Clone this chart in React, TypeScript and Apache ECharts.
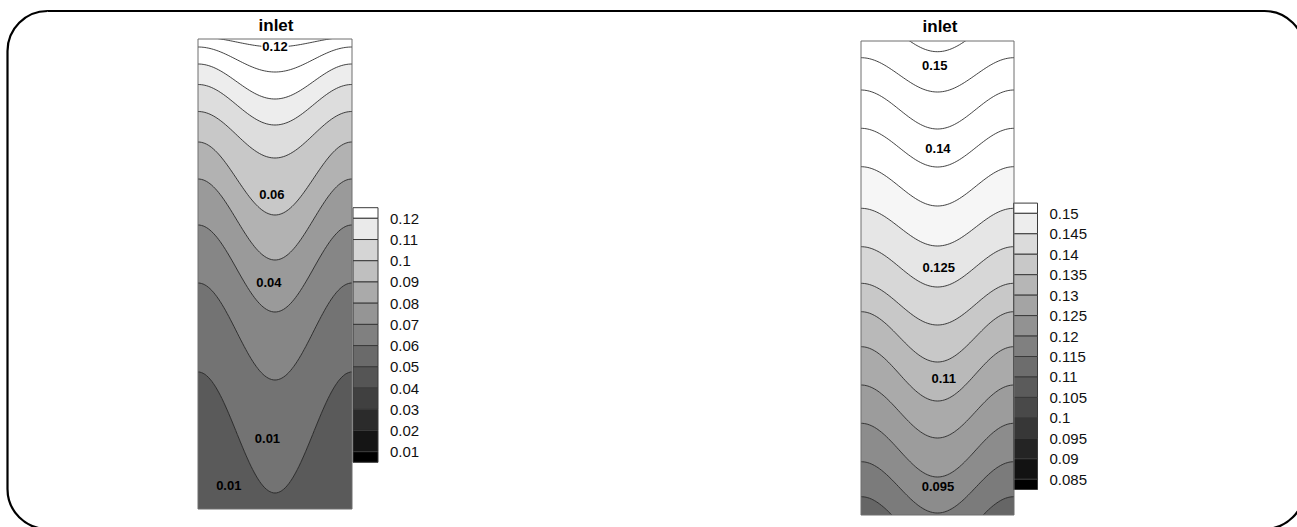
import React, { useEffect, useRef } from 'react';
import * as echarts from 'echarts';

// ---------- data ----------
// Contour lines: depth (px from panel top) at the side walls and at the centre line
const leftLineEdge = [-2, 8, 25, 45.5, 72.5, 103, 140, 186, 244, 333];
const leftLineCenter = [8, 33, 60, 86, 119, 176, 221, 273, 341, 454];
const rightLineEdge = [-26, 16.7, 49, 87.3, 125.7, 167.3, 205.7, 242.3, 270.7, 305.7, 344, 382.3, 420.7, 455.7];
const rightLineCenter = [10.7, 51, 88, 126, 165, 205, 246, 284, 321, 360, 397, 436, 472, 508];

// band fills (top band first)
const leftBandGray = ['#ffffff', '#ffffff', '#ffffff', '#ededed', '#dddddd', '#c8c8c8', '#b2b2b2', '#9a9a9a', '#868686', '#737373', '#5a5a5a'];
const rightBandGray = ['#ffffff', '#ffffff', '#ffffff', '#ffffff', '#ffffff', '#f6f6f6', '#e6e6e6', '#d7d7d7', '#c8c8c8', '#b9b9b9', '#aaaaaa', '#9c9c9c', '#8c8c8c', '#7b7b7b', '#666666'];

// contour labels: text, across-position (0..1), depth
const leftLabelText = ['0.12', '0.06', '0.04', '0.01', '0.01'];
const leftLabelU = [0.5, 0.48, 0.46, 0.451, 0.2];
const leftLabelD = [7.7, 155.3, 243.7, 399.3, 446];
const rightLabelText = ['0.15', '0.14', '0.125', '0.11', '0.095'];
const rightLabelU = [0.482, 0.503, 0.508, 0.541, 0.503];
const rightLabelD = [24, 107, 226.3, 337.3, 445.7];

// colour bars
const leftTicks = ['0.12', '0.11', '0.1', '0.09', '0.08', '0.07', '0.06', '0.05', '0.04', '0.03', '0.02', '0.01'];
const leftBarEdges = [0.125, 0.12, 0.11, 0.1, 0.09, 0.08, 0.07, 0.06, 0.05, 0.04, 0.03, 0.02, 0.01, 0.005];
const rightTicks = ['0.15', '0.145', '0.14', '0.135', '0.13', '0.125', '0.12', '0.115', '0.11', '0.105', '0.1', '0.095', '0.09', '0.085'];
const rightBarEdges = [0.1525, 0.15, 0.145, 0.14, 0.135, 0.13, 0.125, 0.12, 0.115, 0.11, 0.105, 0.1, 0.095, 0.09, 0.085, 0.0825];

const SAMPLES = 90;
const FONT = '"Liberation Sans", Arial, sans-serif';

function depthAt(edge: number, center: number, u: number) {
  return edge + (center - edge) * (1 - Math.cos(2 * Math.PI * u)) / 2;
}

function bandSeries(edges: number[], centers: number[], colors: string[], H: number, idx: number) {
  return {
    type: 'custom',
    xAxisIndex: idx,
    yAxisIndex: idx,
    clip: true,
    silent: true,
    data: colors.map(() => [0.5, 1]),
    renderItem: (params: any, api: any) => {
      const k = params.dataIndex;
      const pts: number[][] = [];
      for (let i = 0; i <= SAMPLES; i++) {
        const u = i / SAMPLES;
        const d = k === 0 ? -60 : depthAt(edges[k - 1], centers[k - 1], u);
        pts.push(api.coord([u, d]));
      }
      for (let i = SAMPLES; i >= 0; i--) {
        const u = i / SAMPLES;
        const d = k === edges.length ? H + 80 : depthAt(edges[k], centers[k], u);
        pts.push(api.coord([u, d]));
      }
      return { type: 'polygon', shape: { points: pts }, style: { fill: colors[k], stroke: colors[k], lineWidth: 0.5 } };
    },
  };
}

function lineSeries(edges: number[], centers: number[], idx: number) {
  return {
    type: 'custom',
    xAxisIndex: idx,
    yAxisIndex: idx,
    clip: true,
    silent: true,
    z: 3,
    data: edges.map(() => [0.5, 1]),
    renderItem: (params: any, api: any) => {
      const k = params.dataIndex;
      const pts: number[][] = [];
      for (let i = 0; i <= SAMPLES; i++) {
        const u = i / SAMPLES;
        pts.push(api.coord([u, depthAt(edges[k], centers[k], u)]));
      }
      return { type: 'polyline', shape: { points: pts }, style: { stroke: '#222222', lineWidth: 0.85, fill: null } };
    },
  };
}

function labelSeries(texts: string[], us: number[], ds: number[], bgs: string[], idx: number) {
  return {
    type: 'custom',
    xAxisIndex: idx,
    yAxisIndex: idx,
    silent: true,
    z: 5,
    data: texts.map((t, i) => [us[i], ds[i]]),
    renderItem: (params: any, api: any) => {
      const i = params.dataIndex;
      const p = api.coord([api.value(0), api.value(1)]);
      return {
        type: 'text',
        x: p[0],
        y: p[1],
        style: {
          text: texts[i],
          font: 'bold 13px ' + FONT,
          fill: '#000',
          align: 'center',
          verticalAlign: 'middle',
          backgroundColor: bgs[i] || 'transparent',
          padding: [0, 1],
        },
      };
    },
  };
}

function barSeries(edgesV: number[], idx: number) {
  const n = edgesV.length - 1;
  return {
    type: 'custom',
    xAxisIndex: idx,
    yAxisIndex: idx,
    silent: true,
    data: edgesV.slice(0, n).map((v, i) => [v, edgesV[i + 1]]),
    renderItem: (params: any, api: any) => {
      const i = params.dataIndex;
      const p0 = api.coord([0, api.value(0)]);
      const p1 = api.coord([1, api.value(1)]);
      const g = Math.round((255 * (n - 1 - i)) / (n - 1));
      return {
        type: 'rect',
        shape: { x: p0[0], y: p0[1], width: p1[0] - p0[0], height: p1[1] - p0[1] },
        style: { fill: `rgb(${g},${g},${g})`, stroke: '#3a3a3a', lineWidth: 1 },
      };
    },
  };
}

function tickFormatter(ticks: string[]) {
  return (v: number) => {
    const t = ticks.find((s) => Math.abs(Number(s) - v) < 1e-7);
    return t ?? '';
  };
}

function barAxis(ticks: string[], min: number, max: number, idx: number) {
  return {
    type: 'value',
    gridIndex: idx,
    min,
    max,
    position: 'right',
    axisLine: { show: false },
    axisTick: { show: false },
    splitLine: { show: false },
    axisLabel: {
      customValues: ticks.map(Number),
      formatter: tickFormatter(ticks),
      margin: 12,
      fontSize: 15,
      fontFamily: FONT,
      color: '#111',
      padding: [7, 0, 0, 0],
    },
  };
}

function buildOption() {
  const LH = 470;
  const RH = 474;
  return {
    animation: false,
    backgroundColor: '#ffffff',
    grid: [
      { left: 198, top: 39, width: 154, height: LH },
      { left: 861, top: 41, width: 153, height: RH },
      { left: 353, top: 207.7, width: 25, height: 254.6 },
      { left: 1013.5, top: 203.1, width: 24, height: 286.4 },
    ],
    xAxis: [0, 1, 2, 3].map((i) => ({ type: 'value', gridIndex: i, min: 0, max: 1, show: false })),
    yAxis: [
      { type: 'value', gridIndex: 0, inverse: true, min: 0, max: LH, show: false },
      { type: 'value', gridIndex: 1, inverse: true, min: 0, max: RH, show: false },
      barAxis(leftTicks, 0.005, 0.125, 2),
      barAxis(rightTicks, 0.0825, 0.1525, 3),
    ],
    series: [
      bandSeries(leftLineEdge, leftLineCenter, leftBandGray, LH, 0),
      lineSeries(leftLineEdge, leftLineCenter, 0),
      labelSeries(leftLabelText, leftLabelU, leftLabelD, ['#ffffff'], 0),
      bandSeries(rightLineEdge, rightLineCenter, rightBandGray, RH, 1),
      lineSeries(rightLineEdge, rightLineCenter, 1),
      labelSeries(rightLabelText, rightLabelU, rightLabelD, [], 1),
      barSeries(leftBarEdges, 2),
      barSeries(rightBarEdges, 3),
    ],
    graphic: [
      {
        type: 'rect',
        z: 100,
        silent: true,
        shape: { x: 7.5, y: 11, width: 1297, height: 518, r: 40 },
        style: { fill: null, stroke: '#000', lineWidth: 2.2 },
      },
      {
        type: 'rect',
        z: 100,
        silent: true,
        shape: { x: 198, y: 39, width: 154, height: LH },
        style: { fill: null, stroke: '#6e6e6e', lineWidth: 1 },
      },
      {
        type: 'rect',
        z: 100,
        silent: true,
        shape: { x: 861, y: 41, width: 153, height: RH },
        style: { fill: null, stroke: '#6e6e6e', lineWidth: 1 },
      },
      {
        type: 'text',
        z: 100,
        x: 276,
        y: 25,
        style: { text: 'inlet', font: 'bold 17px ' + FONT, fill: '#000', align: 'center', verticalAlign: 'middle' },
      },
      {
        type: 'text',
        z: 100,
        x: 940,
        y: 26.5,
        style: { text: 'inlet', font: 'bold 17px ' + FONT, fill: '#000', align: 'center', verticalAlign: 'middle' },
      },
    ],
  };
}

export default function App() {
  const ref = useRef<HTMLDivElement>(null);
  useEffect(() => {
    if (!ref.current) return;
    const chart = echarts.init(ref.current, null, { renderer: 'svg' });
    chart.setOption(buildOption() as any);
    return () => chart.dispose();
  }, []);
  return <div ref={ref} style={{ position: 'fixed', left: 0, top: 0, width: 1297, height: 527 }} />;
}
